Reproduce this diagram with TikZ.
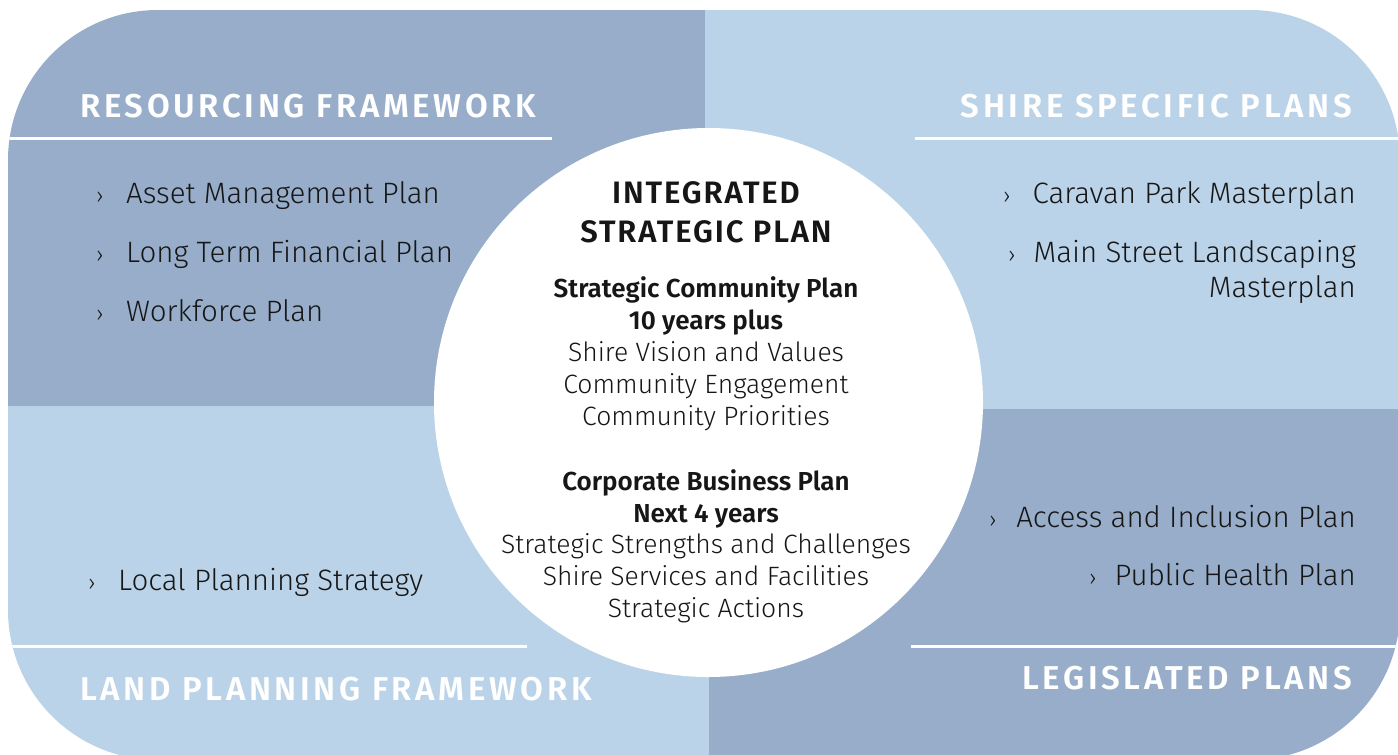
\documentclass[tikz,border=0pt]{standalone}
\usepackage{fontspec}
\setmainfont{Fira Sans Light}[BoldFont={Fira Sans SemiBold}]
\definecolor{darkq}{RGB}{151,173,201}
\definecolor{lightq}{RGB}{187,211,232}
\definecolor{txt}{RGB}{22,22,22}
\tikzset{
  hdr/.style={text=white, font=\bfseries\fontsize{33}{33}\selectfont\addfontfeatures{LetterSpace=11}, inner sep=0pt},
  item/.style={text=txt, font=\fontsize{29.5}{29.5}\selectfont, inner sep=0pt},
  bul/.style={text=txt, font=\fontsize{22}{22}\selectfont, inner sep=0pt},
  ctitle/.style={text=txt, font=\bfseries\fontsize{31}{31}\selectfont\addfontfeatures{LetterSpace=6}, inner sep=0pt},
  cbold/.style={text=txt, font=\bfseries\fontsize{26}{26}\selectfont, inner sep=0pt},
  clight/.style={text=txt, font=\fontsize{26.5}{26.5}\selectfont, inner sep=0pt},
  whiterule/.style={draw=white, line width=3pt},
}
\begin{document}
\begin{tikzpicture}[x=1pt,y=-1pt]
\useasboundingbox (0,0) rectangle (1398,755);
\begin{scope}
  \clip (0,0) rectangle (1398,755);
  \clip[rounded corners=150pt] (8,10) rectangle (1400,760);
  \fill[darkq]  (0,0) rectangle (705,406);
  \fill[lightq] (705,0) rectangle (1400,409);
  \fill[lightq] (0,406) rectangle (709,760);
  \fill[darkq]  (709,409) rectangle (1400,760);
  \draw[whiterule] (0,138) -- (552,138);
  \draw[whiterule] (915,138) -- (1400,138);
  \draw[whiterule] (0,646) -- (527,646);
  \draw[whiterule] (911,646) -- (1400,646);
\end{scope}
\node[circle, fill=white, minimum size=549pt, inner sep=0pt] (core) at (708.5,402.5) {};

% headers
\node[hdr, anchor=base west] (hrf) at (80,117) {RESOURCING FRAMEWORK};
\node[hdr, anchor=base east] (hssp) at (1352,117) {SHIRE SPECIFIC PLANS};
\node[hdr, anchor=base west] (hlpf) at (80,700) {LAND PLANNING FRAMEWORK};
\node[hdr, anchor=base east] (hlp) at (1352,689) {LEGISLATED PLANS};

% resourcing items
\node[bul, anchor=base west] (b1) at (96,203) {›};
\node[item, anchor=base west] (i1) at (126,203) {Asset Management Plan};
\node[bul, anchor=base west] (b2) at (96,262) {›};
\node[item, anchor=base west] (i2) at (126,262) {Long Term Financial Plan};
\node[bul, anchor=base west] (b3) at (96,321) {›};
\node[item, anchor=base west] (i3) at (126,321) {Workforce Plan};

% shire specific
\node[bul, anchor=base west] (b4) at (1003,203) {›};
\node[item, anchor=base east] (i4) at (1356,203) {Caravan Park Masterplan};
\node[bul, anchor=base west] (b5) at (1008,262) {›};
\node[item, anchor=base east] (i5) at (1356,262) {Main Street Landscaping};
\node[item, anchor=base east] (i5b) at (1356,297) {Masterplan};

% legislated
\node[bul, anchor=base west] (b6) at (989,527) {›};
\node[item, anchor=base east] (i6) at (1356,527) {Access and Inclusion Plan};
\node[bul, anchor=base west] (b7) at (1089,585) {›};
\node[item, anchor=base east] (i7) at (1356,585) {Public Health Plan};

% land planning
\node[bul, anchor=base west] (b8) at (88,590) {›};
\node[item, anchor=base west] (i8) at (118,590) {Local Planning Strategy};

% centre
\node[ctitle, anchor=base] (t1) at (706,203) {INTEGRATED};
\node[ctitle, anchor=base] (t2) at (706,242) {STRATEGIC PLAN};
\node[cbold, anchor=base] (s1) at (706,297) {Strategic Community Plan};
\node[cbold, anchor=base] (s2) at (706,329) {10 years plus};
\node[clight, anchor=base] (s3) at (706,361) {Shire Vision and Values};
\node[clight, anchor=base] (s4) at (706,393) {Community Engagement};
\node[clight, anchor=base] (s5) at (706,425) {Community Priorities};
\node[cbold, anchor=base] (c1) at (706,490) {Corporate Business Plan};
\node[cbold, anchor=base] (c2) at (706,522) {Next 4 years};
\node[clight, anchor=base] (c3) at (706,553) {Strategic Strengths and Challenges};
\node[clight, anchor=base] (c4) at (706,585) {Shire Services and Facilities};
\node[clight, anchor=base] (c5) at (706,617) {Strategic Actions};
\end{tikzpicture}
\end{document}
